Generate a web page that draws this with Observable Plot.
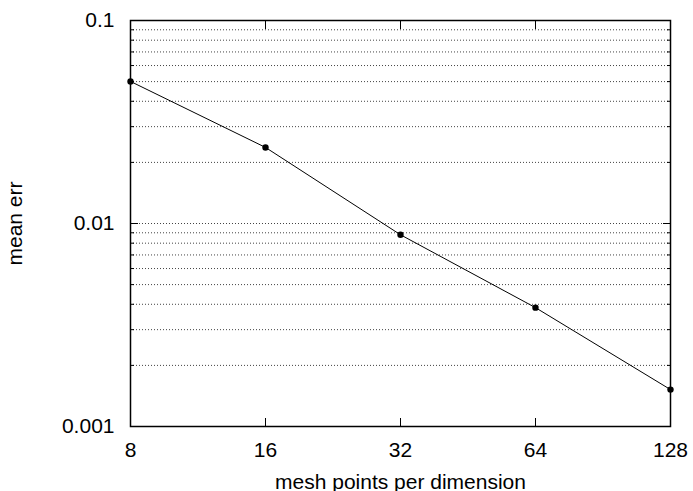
<!DOCTYPE html>
<html><head><meta charset="utf-8">
<script src="https://cdn.jsdelivr.net/npm/d3@7"></script>
<script src="https://cdn.jsdelivr.net/npm/@observablehq/plot@0.6"></script>
<style>html,body{margin:0;padding:0;background:#fff} svg{display:block}</style>
</head><body><div id="chart"></div>
<script>
const meshPoints = [8, 16, 32, 64, 128];
const meanErr = [0.0501, 0.0237, 0.0088, 0.00385, 0.00152];
const xTicks = [8, 16, 32, 64, 128];
const xTickLabels = ["8", "16", "32", "64", "128"];
const yMajorTicks = [0.001, 0.01, 0.1];
const yMajorLabels = ["0.001", "0.01", "0.1"];
const yGridTicks = [0.002, 0.003, 0.004, 0.005, 0.006, 0.007, 0.008, 0.009, 0.01,
                    0.02, 0.03, 0.04, 0.05, 0.06, 0.07, 0.08, 0.09];
const yMinorTicks = [0.002, 0.003, 0.004, 0.005, 0.006, 0.007, 0.008, 0.009,
                     0.02, 0.03, 0.04, 0.05, 0.06, 0.07, 0.08, 0.09];
const xTitle = "mesh points per dimension";
const yTitle = "mean err";

const data = meshPoints.map((m, i) => ({m, err: meanErr[i]}));

const chart = Plot.plot({
  width: 693, height: 491,
  marginLeft: 130, marginRight: 23, marginTop: 20, marginBottom: 65,
  style: {fontFamily: "'Liberation Sans', Arial, Helvetica, sans-serif", fontSize: "21px", background: "white", color: "black"},
  x: {type: "log", base: 2, domain: [8, 128]},
  y: {type: "log", domain: [0.001, 0.1]},
  marks: [
    Plot.gridY(yGridTicks, {stroke: "#444", strokeOpacity: 1, strokeWidth: 1, strokeDasharray: "1,2"}),
    Plot.axisX(xTicks, {anchor: "bottom", tickSize: 0, tickPadding: 16,
      tickFormat: d => xTickLabels[xTicks.indexOf(d)],
      label: xTitle, labelAnchor: "center", labelArrow: "none"}),
    Plot.axisX(xTicks, {anchor: "bottom", tickSize: -8, text: null, label: null}),
    Plot.axisX(xTicks, {anchor: "top", tickSize: -8, text: null, label: null}),
    Plot.axisY(yMajorTicks, {anchor: "left", tickSize: 0, tickPadding: 16,
      tickFormat: d => yMajorLabels[yMajorTicks.indexOf(d)],
      label: yTitle, labelAnchor: "center", labelArrow: "none", labelOffset: 123}),
    Plot.axisY(yMajorTicks, {anchor: "left", tickSize: -8, text: null, label: null}),
    Plot.axisY(yMajorTicks, {anchor: "right", tickSize: -8, text: null, label: null}),
    Plot.axisY(yMinorTicks, {anchor: "left", tickSize: -4, text: null, label: null}),
    Plot.axisY(yMinorTicks, {anchor: "right", tickSize: -4, text: null, label: null}),
    Plot.line(data, {x: "m", y: "err", stroke: "black", strokeWidth: 1}),
    Plot.dot(data, {x: "m", y: "err", r: 3.2, fill: "black", stroke: "none"}),
    Plot.frame({stroke: "black", strokeWidth: 1.5})
  ]
});
document.getElementById("chart").appendChild(chart);
</script>
</body></html>
